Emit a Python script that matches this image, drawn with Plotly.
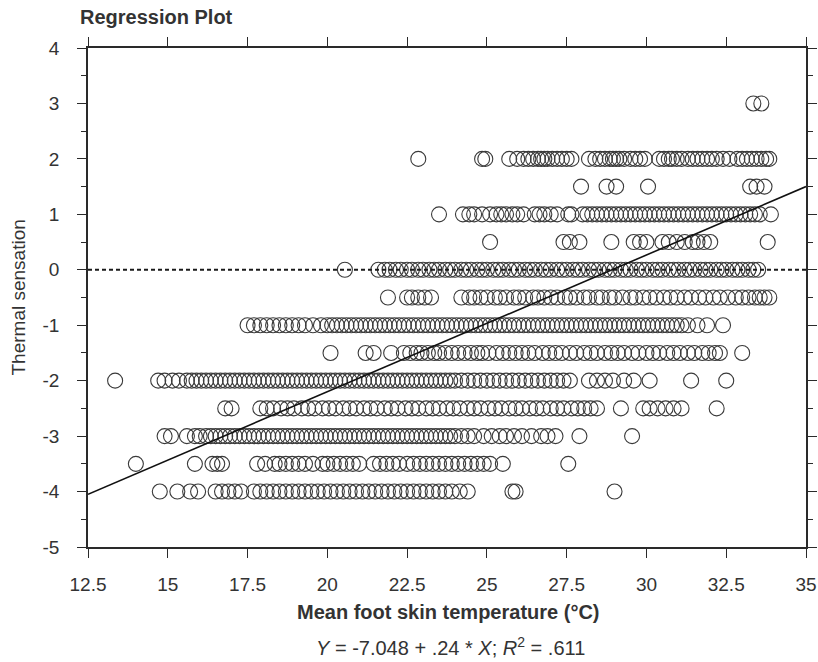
import plotly.graph_objects as go

# ---- data ----
levels = [3, 2, 1.5, 1, 0.5, 0, -0.5, -1, -1.5, -2, -2.5, -3, -3.5, -4]

x_at_3 = [33.35, 33.6]
x_at_2 = [22.85, 24.85, 24.95, 25.7, 25.95, 26.15, 26.3, 26.45, 26.6, 26.7, 26.8, 26.9,
          27.05, 27.2, 27.35, 27.5, 27.65, 28.2, 28.4, 28.55, 28.7, 28.85, 28.95, 29.05,
          29.15, 29.3, 29.5, 29.65, 29.8, 29.95, 30.4, 30.55, 30.7, 30.8, 30.95, 31.1,
          31.3, 31.45, 31.6, 31.75, 31.9, 32.05, 32.2, 32.4, 32.6, 32.85, 33.0, 33.15,
          33.3, 33.45, 33.6, 33.75, 33.85]
x_at_1p5 = [27.95, 28.75, 29.05, 30.05, 33.25, 33.45, 33.7]
x_at_1 = [23.5, 24.25, 24.45, 24.6, 24.85, 25.1, 25.3, 25.45, 25.6, 25.8, 25.95, 26.15,
          26.5, 26.65, 26.8, 27.0, 27.2, 27.55, 27.65, 28.0, 28.15, 28.3, 28.45, 28.6,
          28.75, 28.9, 29.05, 29.2, 29.35, 29.5, 29.65, 29.8, 29.95, 30.1, 30.25, 30.4,
          30.55, 30.7, 30.85, 31.0, 31.15, 31.3, 31.45, 31.6, 31.75, 31.9, 32.05, 32.2,
          32.35, 32.5, 32.65, 32.8, 32.95, 33.1, 33.25, 33.4, 33.55, 33.9]
x_at_0p5 = [25.1, 27.4, 27.6, 27.9, 28.9, 29.6, 29.8, 30.0, 30.5, 30.7, 30.95, 31.2,
            31.45, 31.6, 31.8, 32.0, 33.8]
x_at_0 = [20.55, 21.6, 21.8, 21.95, 22.15, 22.3, 22.5, 22.65, 22.85, 23.0, 23.2, 23.35,
          23.5, 23.7, 23.85, 24.0, 24.2, 24.35, 24.5, 24.7, 24.85, 25.0, 25.2, 25.35,
          25.5, 25.7, 25.85, 26.0, 26.2, 26.35, 26.5, 26.7, 26.85, 27.0, 27.2, 27.35,
          27.5, 27.7, 27.85, 28.0, 28.2, 28.35, 28.5, 28.7, 28.85, 29.0, 29.2, 29.35,
          29.5, 29.7, 29.85, 30.0, 30.2, 30.35, 30.5, 30.7, 30.85, 31.0, 31.2, 31.35,
          31.5, 31.7, 31.85, 32.0, 32.2, 32.35, 32.5, 32.7, 32.85, 33.0, 33.2, 33.35, 33.5]
x_at_m0p5 = [21.9, 22.5, 22.65, 22.85, 23.05, 23.25, 24.2, 24.45, 24.6, 24.8, 25.0, 25.25,
             25.4, 25.6, 25.85, 26.0, 26.2, 26.45, 26.6, 26.8, 27.0, 27.2, 27.45, 27.6,
             27.8, 28.05, 28.2, 28.45, 28.6, 28.85, 29.0, 29.25, 29.5, 29.65, 29.9, 30.1,
             30.3, 30.55, 30.75, 30.95, 31.2, 31.4, 31.65, 31.85, 32.1, 32.3, 32.55, 32.8,
             33.0, 33.2, 33.4, 33.55, 33.7, 33.85]
x_at_m1 = [17.5, 17.7, 17.9, 18.1, 18.3, 18.5, 18.7, 18.9, 19.1, 19.3, 19.55, 19.8, 20.0,
           20.15, 20.3, 20.45, 20.6, 20.75, 20.9, 21.05, 21.2, 21.35, 21.5, 21.65, 21.8,
           21.95, 22.1, 22.25, 22.4, 22.55, 22.7, 22.85, 23.0, 23.15, 23.3, 23.45, 23.6,
           23.75, 23.9, 24.05, 24.2, 24.35, 24.5, 24.65, 24.8, 24.95, 25.1, 25.25, 25.4,
           25.55, 25.7, 25.85, 26.0, 26.15, 26.3, 26.45, 26.6, 26.75, 26.9, 27.05, 27.2,
           27.35, 27.5, 27.65, 27.8, 27.95, 28.1, 28.25, 28.4, 28.55, 28.7, 28.85, 29.0,
           29.15, 29.3, 29.45, 29.6, 29.75, 29.9, 30.05, 30.2, 30.35, 30.5, 30.65, 30.8,
           30.95, 31.1, 31.3, 31.6, 31.9, 32.4]
x_at_m1p5 = [20.1, 21.2, 21.45, 22.0, 22.4, 22.6, 22.8, 22.95, 23.15, 23.35, 23.5, 23.7,
             23.9, 24.1, 24.3, 24.5, 24.7, 24.85, 25.05, 25.3, 25.5, 25.7, 25.9, 26.1,
             26.3, 26.5, 26.75, 26.95, 27.15, 27.35, 27.6, 27.8, 28.05, 28.25, 28.45, 28.7,
             28.9, 29.1, 29.3, 29.55, 29.75, 30.0, 30.2, 30.4, 30.65, 30.85, 31.05, 31.3,
             31.5, 31.75, 31.95, 32.15, 32.3, 33.0]
x_at_m2 = [13.35, 14.7, 14.9, 15.15, 15.35, 15.6, 15.75, 15.9, 16.05, 16.2, 16.35, 16.5,
           16.65, 16.8, 16.95, 17.1, 17.25, 17.4, 17.55, 17.7, 17.85, 18.0, 18.15, 18.3,
           18.45, 18.6, 18.75, 18.9, 19.05, 19.2, 19.35, 19.5, 19.65, 19.8, 19.95, 20.1,
           20.25, 20.4, 20.55, 20.7, 20.85, 21.0, 21.15, 21.3, 21.45, 21.6, 21.75, 21.9,
           22.05, 22.2, 22.35, 22.5, 22.65, 22.8, 22.95, 23.1, 23.25, 23.4, 23.55, 23.7,
           23.85, 24.0, 24.2, 24.4, 24.6, 24.8, 25.0, 25.2, 25.4, 25.6, 25.8, 26.0, 26.2,
           26.4, 26.6, 26.8, 27.0, 27.2, 27.4, 27.6, 28.2, 28.45, 28.7, 28.95, 29.3, 29.6,
           30.1, 31.4, 32.5]
x_at_m2p5 = [16.8, 17.0, 17.9, 18.1, 18.3, 18.55, 18.75, 18.95, 19.2, 19.4, 19.6, 19.85,
             20.05, 20.25, 20.5, 20.7, 20.9, 21.15, 21.35, 21.55, 21.8, 22.0, 22.2, 22.45,
             22.65, 22.85, 23.1, 23.3, 23.5, 23.75, 23.95, 24.15, 24.4, 24.6, 24.8, 25.05,
             25.25, 25.45, 25.7, 25.9, 26.1, 26.35, 26.55, 26.75, 27.0, 27.2, 27.4, 27.65,
             27.85, 28.05, 28.25, 28.45, 29.2, 29.9, 30.1, 30.35, 30.6, 30.85, 31.1, 32.2]
x_at_m3 = [14.9, 15.1, 15.6, 15.85, 16.0, 16.2, 16.35, 16.5, 16.65, 16.8, 16.95, 17.1,
           17.25, 17.4, 17.55, 17.7, 17.85, 18.0, 18.15, 18.3, 18.45, 18.6, 18.75, 18.9,
           19.05, 19.2, 19.35, 19.5, 19.65, 19.8, 19.95, 20.1, 20.25, 20.4, 20.55, 20.7,
           20.85, 21.0, 21.15, 21.3, 21.45, 21.6, 21.75, 21.9, 22.05, 22.2, 22.35, 22.5,
           22.65, 22.8, 22.95, 23.1, 23.25, 23.4, 23.55, 23.7, 23.85, 24.0, 24.2, 24.4,
           24.6, 24.9, 25.15, 25.4, 25.6, 25.85, 26.1, 26.4, 26.7, 26.9, 27.15, 27.9, 29.55]
x_at_m3p5 = [14.0, 15.85, 16.4, 16.55, 16.7, 17.8, 18.05, 18.35, 18.5, 18.7, 18.9, 19.1,
             19.3, 19.55, 19.85, 20.0, 20.2, 20.4, 20.6, 20.8, 21.0, 21.45, 21.65, 21.85,
             22.05, 22.25, 22.5, 22.7, 22.9, 23.1, 23.3, 23.5, 23.7, 23.9, 24.1, 24.3,
             24.5, 24.7, 24.9, 25.1, 25.5, 27.55]
x_at_m4 = [14.75, 15.3, 15.7, 15.95, 16.5, 16.7, 16.9, 17.1, 17.3, 17.7, 17.9, 18.1,
           18.3, 18.5, 18.7, 18.9, 19.1, 19.3, 19.5, 19.7, 19.9, 20.1, 20.3, 20.5, 20.7,
           20.9, 21.1, 21.3, 21.5, 21.7, 21.9, 22.1, 22.3, 22.5, 22.7, 22.9, 23.1, 23.3,
           23.5, 23.7, 23.9, 24.15, 24.4, 25.8, 25.9, 29.0]

rows_x = [x_at_3, x_at_2, x_at_1p5, x_at_1, x_at_0p5, x_at_0, x_at_m0p5, x_at_m1,
          x_at_m1p5, x_at_m2, x_at_m2p5, x_at_m3, x_at_m3p5, x_at_m4]

fit_x = [12.5, 35]
fit_y = [-4.05, 1.5]
zero_x = [12.5, 35]
zero_y = [0, 0]

x_ticks = [12.5, 15, 17.5, 20, 22.5, 25, 27.5, 30, 32.5, 35]
x_tick_labels = ["12.5", "15", "17.5", "20", "22.5", "25", "27.5", "30", "32.5", "35"]
y_ticks = [4, 3, 2, 1, 0, -1, -2, -3, -4, -5]
y_tick_labels = ["4", "3", "2", "1", "0", "-1", "-2", "-3", "-4", "-5"]

# ---- build figure ----
all_x, all_y = [], []
for lvl, xs in zip(levels, rows_x):
    all_x.extend(xs)
    all_y.extend([lvl] * len(xs))

FONT = "Arial, 'Liberation Sans', sans-serif"
INK = "#2a2a2a"
TXT = "#333333"

fig = go.Figure()
fig.add_trace(go.Scatter(
    x=all_x, y=all_y, mode="markers",
    marker=dict(symbol="circle-open", size=15, color="#3a3a3a", line=dict(width=1.1)),
    hoverinfo="skip", showlegend=False, cliponaxis=False))
fig.add_trace(go.Scatter(
    x=zero_x, y=zero_y, mode="lines",
    line=dict(color="#1a1a1a", width=2, dash="4px,3px"),
    hoverinfo="skip", showlegend=False))
fig.add_trace(go.Scatter(
    x=fit_x, y=fit_y, mode="lines",
    line=dict(color="#111111", width=1.6),
    hoverinfo="skip", showlegend=False))

fig.update_layout(
    width=818, height=662,
    margin=dict(l=88, r=12, t=48, b=115, autoexpand=False),
    paper_bgcolor="white", plot_bgcolor="white",
    font=dict(family=FONT, color=INK, size=19),
    title=dict(text="<b>Regression Plot</b>", x=80 / 818, xanchor="left",
               xref="container", y=1 - 17 / 662, yref="container", yanchor="middle",
               font=dict(size=20, color=TXT, family=FONT)),
    showlegend=False,
)
fig.update_xaxes(
    range=[12.5, 35], tickvals=x_ticks, ticktext=x_tick_labels,
    showgrid=False, zeroline=False, automargin=False,
    showline=True, linecolor=INK, linewidth=1.5, mirror="ticks",
    ticks="outside", ticklen=9, tickwidth=1, tickcolor=INK,
    ticklabelstandoff=10, tickfont=dict(size=19, color=TXT),
)
fig.update_yaxes(
    range=[-5, 4], tickvals=y_ticks, ticktext=y_tick_labels,
    showgrid=False, zeroline=False, automargin=False,
    showline=True, linecolor=INK, linewidth=1.5, mirror="ticks",
    ticks="outside", ticklen=9, tickwidth=1, tickcolor=INK,
    minor=dict(dtick=0.5, ticks="outside", ticklen=5, tickcolor=INK, showgrid=False),
    ticklabelstandoff=14, tickfont=dict(size=19, color=TXT),
)

fig.add_annotation(text="Thermal sensation", xref="paper", yref="paper",
                   x=-(88 - 18) / 718, y=0.5, textangle=-90, showarrow=False,
                   xanchor="center", yanchor="middle",
                   font=dict(size=19, color=TXT))
fig.add_annotation(text="<b>Mean foot skin temperature (°C)</b>", xref="paper", yref="paper",
                   x=(448 - 88) / 718, y=-(612 - 547) / 499, showarrow=False,
                   xanchor="center", yanchor="middle",
                   font=dict(size=20, color=TXT))
fig.add_annotation(text="<i>Y</i> = -7.048 + .24 * <i>X</i>; <i>R</i><sup>2</sup> = .611",
                   xref="paper", yref="paper",
                   x=(450 - 88) / 718, y=-(646 - 547) / 499, showarrow=False,
                   xanchor="center", yanchor="middle",
                   font=dict(size=20, color=TXT))

fig.write_html("out.html")
